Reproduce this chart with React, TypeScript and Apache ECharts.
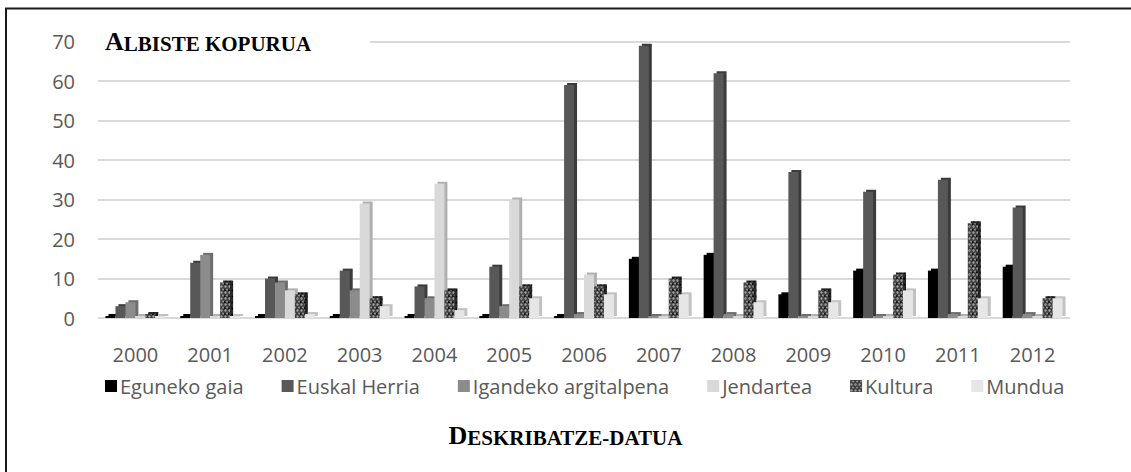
import React, { useEffect, useRef } from "react";
import * as echarts from "echarts";

const years = ["2000", "2001", "2002", "2003", "2004", "2005", "2006", "2007", "2008", "2009", "2010", "2011", "2012"];
const seriesNames = ["Eguneko gaia", "Euskal Herria", "Igandeko argitalpena", "Jendartea", "Kultura", "Mundua"];
const egunekoGaia = [0, 0, 0, 0, 0, 0, 0, 15, 16, 6, 12, 12, 13];
const euskalHerria = [3, 14, 10, 12, 8, 13, 59, 69, 62, 37, 32, 35, 28];
const igandekoArgitalpena = [4, 16, 9, 7, 5, 3, 1, 0, 1, 0, 0, 1, 1];
const jendartea = [0, 0, 7, 29, 34, 30, 11, 0, 0, 0, 0, 0, 0];
const kultura = [1, 9, 6, 5, 7, 8, 8, 10, 9, 7, 11, 24, 5];
const mundua = [0, 0, 1, 3, 2, 5, 6, 6, 4, 4, 7, 5, 5];
const yTicks = { min: 0, max: 70, interval: 10 };

const FONT = "'Open Sans', sans-serif";
const SERIF = "'Liberation Serif', 'Times New Roman', serif";

export default function App() {
  const ref = useRef<HTMLDivElement>(null);
  useEffect(() => {
    if (!ref.current) return;
    const chart = echarts.init(ref.current, null, { renderer: "svg" });
    const values = [egunekoGaia, euskalHerria, igandekoArgitalpena, jendartea, kultura, mundua];
    const styles: any[] = [
      { color: "#000000", shadowColor: "#000000" },
      { color: "#595959", shadowColor: "#3a3a3a" },
      { color: "#8c8c8c", shadowColor: "#6e6e6e" },
      { color: "#d9d9d9", shadowColor: "#b0b0b0" },
      {
        color: "#3f3f3f",
        shadowColor: "#2a2a2a",
        decal: {
          symbol: "circle",
          symbolSize: 0.8,
          color: "rgba(190,190,190,0.75)",
          dashArrayX: [[3, 1], [0, 2, 2, 0]],
          dashArrayY: [3, 0],
        },
      },
      { color: "#e6e6e6", shadowColor: "#c2c2c2" },
    ].map((s) => ({ ...s, shadowBlur: 0, shadowOffsetX: 3, shadowOffsetY: -2 }));
    const rich = (big: number, small: number) => ({
      b: { fontFamily: SERIF, fontWeight: "bold", fontSize: big, color: "#000", verticalAlign: "bottom", lineHeight: 27 },
      s: { fontFamily: SERIF, fontWeight: "bold", fontSize: small, color: "#000", verticalAlign: "bottom", lineHeight: 27 },
    });
    chart.setOption({
      animation: false,
      backgroundColor: "#ffffff",
      title: [
        {
          text: "{b|A}{s|LBISTE KOPURUA}",
          left: 97,
          top: 25,
          backgroundColor: "#ffffff",
          padding: [2, 59, 2, 8],
          textStyle: { rich: rich(26, 21) },
        },
        {
          text: "{b|D}{s|ESKRIBATZE-DATUA}",
          left: "center",
          top: 421,
          padding: 0,
          textStyle: { rich: rich(26, 21) },
        },
      ],
      legend: {
        data: seriesNames,
        left: 100,
        top: 371,
        itemWidth: 12,
        itemHeight: 12,
        itemGap: 38,
        icon: "rect",
        itemStyle: { shadowBlur: 0, shadowOffsetX: 0, shadowOffsetY: 0, shadowColor: "transparent" },
        textStyle: { fontFamily: FONT, fontSize: 20, color: "#595959", padding: [0, 0, 0, -2] },
      },
      grid: { left: 98, right: 61, top: 41.7, bottom: 154 },
      xAxis: {
        type: "category",
        data: years,
        axisLine: { show: false },
        axisTick: { show: false },
        axisLabel: { fontFamily: FONT, fontSize: 20, color: "#595959", margin: 26 },
      },
      yAxis: {
        type: "value",
        min: yTicks.min,
        max: yTicks.max,
        interval: yTicks.interval,
        axisLine: { show: false },
        axisTick: { show: false },
        splitLine: { lineStyle: { color: "#d9d9d9", width: 2 } },
        axisLabel: { fontFamily: FONT, fontSize: 20, color: "#595959", margin: 23, padding: [12, 0, 0, 0] },
      },
      graphic: [
        {
          type: "rect",
          shape: { x: 6, y: 8.5, width: 1300, height: 600 },
          style: { fill: "none", stroke: "#1a1a1a", lineWidth: 2 },
          silent: true,
          z: 100,
        },
      ],
      series: seriesNames.map((name, i) => ({
        name,
        type: "bar",
        data: values[i],
        barGap: "0%",
        barCategoryGap: "20%",
        barMinHeight: 2,
        itemStyle: styles[i],
      })),
    });
    return () => chart.dispose();
  }, []);
  return <div ref={ref} style={{ position: "absolute", left: 0, top: 0, width: 1131, height: 472 }} />;
}
